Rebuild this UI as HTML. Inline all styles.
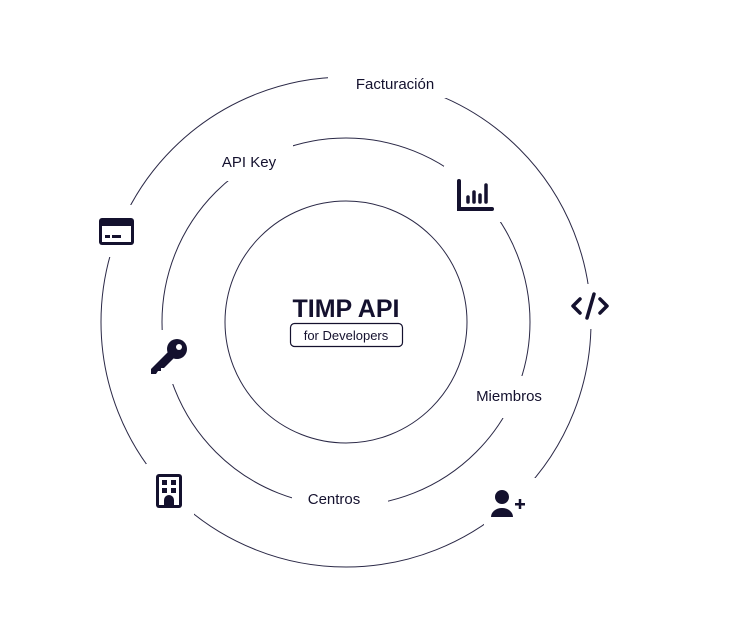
<!DOCTYPE html>
<html><head><meta charset="utf-8"><style>
html,body{margin:0;padding:0;background:#fff;}
svg{display:block;font-family:"Liberation Sans",sans-serif;}
</style></head><body>
<svg width="741" height="644" viewBox="0 0 741 644" xmlns="http://www.w3.org/2000/svg">
<g fill="none" stroke="#2a2846" stroke-width="1">
<circle cx="346" cy="322" r="121"/>
<circle cx="346" cy="322" r="184"/>
<circle cx="346" cy="322" r="245"/>
</g>
<g fill="#fff">
<rect x="328" y="66" width="124" height="32"/>
<rect x="203" y="143" width="90" height="38"/>
<rect x="444" y="166" width="62" height="56"/>
<rect x="566" y="284" width="50" height="45"/>
<rect x="462" y="376" width="96" height="42"/>
<rect x="484" y="478" width="52" height="50"/>
<rect x="292" y="480" width="96" height="42"/>
<rect x="146" y="464" width="48" height="56"/>
<rect x="143" y="330" width="54" height="54"/>
<rect x="90" y="205" width="52" height="52"/>
</g>
<g fill="#14112e" font-size="15">
<text x="395" y="89" text-anchor="middle">Facturación</text>
<text x="249" y="167" text-anchor="middle">API Key</text>
<text x="509" y="401" text-anchor="middle">Miembros</text>
<text x="334" y="504" text-anchor="middle">Centros</text>
<text x="346" y="317" text-anchor="middle" font-size="25" font-weight="bold">TIMP API</text>
<rect x="290.5" y="323.5" width="112" height="23" rx="4" fill="none" stroke="#14112e" stroke-width="1.2"/>
<text x="346" y="340" text-anchor="middle" font-size="13">for Developers</text>
</g>
<!-- bar chart -->
<g stroke="#14112e" stroke-linecap="round" fill="none">
<path d="M459 181 V209 H492" stroke-width="4"/>
<path d="M468 197 V202 M474 192 V202 M480 195 V202 M486 185 V202" stroke-width="3.5"/>
</g>
<!-- code -->
<g stroke="#14112e" stroke-width="3.5" stroke-linecap="round" stroke-linejoin="round" fill="none">
<path d="M580 299 L573 306 L580 313"/>
<path d="M600 299 L607 306 L600 313"/>
<path d="M594 294 L587 318"/>
</g>
<!-- card -->
<g>
<rect x="99" y="218" width="35" height="27" rx="3" fill="#14112e"/>
<rect x="102" y="226" width="29" height="16" fill="#fff"/>
<rect x="105" y="235" width="5" height="3" fill="#14112e"/>
<rect x="112" y="235" width="9" height="3" fill="#14112e"/>
</g>
<!-- key -->
<g fill="#14112e">
<circle cx="177" cy="349" r="10"/>
<path d="M168 352 L151 369 L151 374 L156 374 L158 371 L161 371 L161 368 L164 368 L174 358 Z"/>
<circle cx="179" cy="347" r="3" fill="#fff"/>
</g>
<!-- building -->
<g>
<rect x="156" y="474" width="26" height="34" rx="3" fill="#14112e"/>
<rect x="159" y="477" width="20" height="28" fill="#fff"/>
<rect x="162" y="480" width="5" height="5" fill="#14112e"/>
<rect x="171" y="480" width="5" height="5" fill="#14112e"/>
<rect x="162" y="488" width="5" height="5" fill="#14112e"/>
<rect x="171" y="488" width="5" height="5" fill="#14112e"/>
<path d="M164 505 V500 a5 5 0 0 1 10 0 V505 Z" fill="#14112e"/>
</g>
<!-- person plus -->
<g fill="#14112e">
<circle cx="502" cy="497" r="7"/>
<path d="M491 517 a11 9 0 0 1 22 0 Z"/>
<rect x="515" y="503" width="10" height="2.5"/>
<rect x="518.75" y="499" width="2.5" height="10"/>
</g>
</svg>
</body></html>
